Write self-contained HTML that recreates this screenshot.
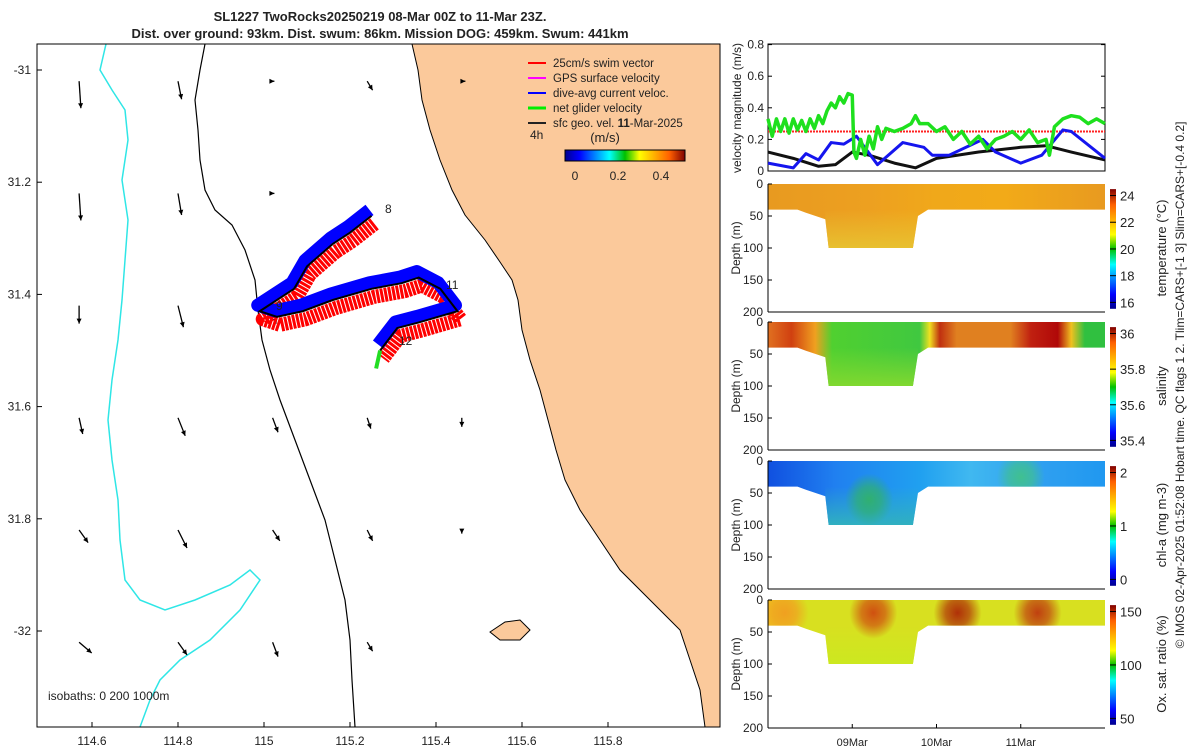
<!DOCTYPE html>
<html><head><meta charset="utf-8">
<style>
body{margin:0;background:#fff;font-family:"Liberation Sans",sans-serif;}
svg text{font-family:"Liberation Sans","DejaVu Sans",sans-serif;fill:#222;}
</style></head>
<body>
<svg id="root" width="1200" height="750" viewBox="0 0 1200 750" xmlns="http://www.w3.org/2000/svg">
<defs>
<linearGradient id="jet" x1="0" x2="1" y1="0" y2="0">
<stop offset="0" stop-color="#00008f"/><stop offset="0.12" stop-color="#0000ff"/><stop offset="0.37" stop-color="#00ffff"/><stop offset="0.5" stop-color="#00c000"/><stop offset="0.62" stop-color="#ffff00"/><stop offset="0.87" stop-color="#ff6000"/><stop offset="1" stop-color="#800000"/>
</linearGradient>
<linearGradient id="jetv" x1="0" x2="0" y1="1" y2="0">
<stop offset="0" stop-color="#00008f"/><stop offset="0.12" stop-color="#0000ff"/><stop offset="0.37" stop-color="#00ffff"/><stop offset="0.5" stop-color="#00c000"/><stop offset="0.62" stop-color="#ffff00"/><stop offset="0.87" stop-color="#ff6000"/><stop offset="1" stop-color="#800000"/>
</linearGradient>
<clipPath id="mapclip"><rect x="37" y="44" width="683" height="683"/></clipPath>
</defs>

<text x="380" y="21" font-size="13" font-weight="bold" text-anchor="middle">SL1227 TwoRocks20250219 08-Mar 00Z to 11-Mar 23Z.</text>
<text x="380" y="38" font-size="13" font-weight="bold" text-anchor="middle">Dist. over ground: 93km. Dist. swum: 86km. Mission DOG: 459km. Swum: 441km</text>

<g id="map">
<g clip-path="url(#mapclip)">
<path fill="#fbc99b" d="M412,44 L418,70 L422,100 L430,130 L440,160 L452,190 L465,215 L485,240 L500,262 L512,280 L518,300 L522,330 L530,360 L540,390 L548,420 L556,450 L565,480 L580,510 L600,540 L620,570 L645,595 L665,615 L680,630 L690,660 L700,690 L705,727 L720,727 L720,44 Z" stroke="#000" stroke-width="1"/>
<path fill="#fbc99b" stroke="#000" d="M490,632 L505,622 L520,620 L530,630 L520,640 L500,640 Z"/>
<path fill="none" stroke="#000" stroke-width="1.2" d="M205,44 L200,70 L195,100 L198,130 L200,160 L205,190 L215,210 L232,225 L245,250 L255,280 L258,310 L262,340 L270,370 L280,400 L295,440 L310,480 L325,520 L335,560 L345,600 L350,640 L352,680 L355,727"/>
<path fill="none" stroke="#2fe6e6" stroke-width="1.5" d="M106,44 L100,70 L112,90 L125,110 L128,140 L122,180 L128,220 L125,260 L122,300 L118,340 L112,380 L108,420 L112,460 L118,500 L120,540 L125,580 L140,600 L165,610 L195,600 L230,585 L250,570 L260,580 L240,610 L210,640 L180,660 L160,680 L150,700 L140,727"/>
</g>
<rect x="37" y="44" width="683" height="683" fill="none" stroke="#000"/>
<g id="mapArrows"></g>
<g id="track"></g>
<text x="385" y="213" font-size="12">8</text>
<text x="276" y="310" font-size="12">9</text>
<text x="446" y="289" font-size="12">11</text>
<text x="399" y="345" font-size="12">12</text>
<g id="mapTicks"></g>
<text x="48" y="700" font-size="12">isobaths: 0   200  1000m</text>
<g font-size="11.5">
<line x1="528" y1="63" x2="546" y2="63" stroke="#f00" stroke-width="2"/><text x="553" y="67" font-size="11.5">25cm/s swim vector</text>
<line x1="528" y1="78" x2="546" y2="78" stroke="#f0f" stroke-width="2"/><text x="553" y="82" font-size="11.5">GPS surface velocity</text>
<line x1="528" y1="93" x2="546" y2="93" stroke="#00f" stroke-width="2"/><text x="553" y="97" font-size="11.5">dive-avg current veloc.</text>
<line x1="528" y1="108" x2="546" y2="108" stroke="#0e0" stroke-width="3"/><text x="553" y="112" font-size="11.5">net glider velocity</text>
<line x1="528" y1="123" x2="546" y2="123" stroke="#222" stroke-width="2"/><text x="553" y="127" font-size="11.5">sfc geo. vel. <tspan font-weight="bold">11</tspan>-Mar-2025</text>
<text x="530" y="139" font-size="12">4h</text>
<text x="605" y="142" font-size="13" text-anchor="middle">(m/s)</text>
<rect x="565" y="150" width="120" height="11" fill="url(#jet)" stroke="#000"/>
<text x="575" y="180" font-size="12" text-anchor="middle">0</text>
<text x="618" y="180" font-size="12" text-anchor="middle">0.2</text>
<text x="661" y="180" font-size="12" text-anchor="middle">0.4</text>
</g>
</g>

<g id="vel"></g>
<g id="sections"></g>
<text transform="translate(1184,385) rotate(-90)" font-size="12" text-anchor="middle">© IMOS 02-Apr-2025 01:52:08 Hobart time. QC flags 1  2. Tlim=CARS+[-1 3] Slim=CARS+[-0.4 0.2]</text>
</svg>
<script>
const NS='http://www.w3.org/2000/svg';
function mk(tag,attrs,parent){const e=document.createElementNS(NS,tag);for(const k in attrs)e.setAttribute(k,attrs[k]);parent.appendChild(e);return e;}

const lonTicks=[114.6,114.8,115,115.2,115.4,115.6,115.8];
const latTicks=[-31,-31.2,-31.4,-31.6,-31.8,-32];
const latTickLabels=['-31','31.2','31.4','31.6','31.8','-32'];
const arrowLons=[114.57,114.8,115.02,115.24,115.46];
const arrowLats=[-31.02,-31.22,-31.42,-31.62,-31.82,-32.02];
const arrowU=[[0.01,0.02,0.01,0.03,0.02],[0.01,0.02,0.01,0.0,0.0],[0,0.03,0.02,0,0],[0.02,0.04,0.03,0.02,0],[0.05,0.05,0.04,0.03,0],[0.07,0.05,0.03,0.03,0]];
const arrowV=[[-0.15,-0.1,0,-0.05,0],[-0.15,-0.12,0,0,0],[-0.1,-0.12,-0.1,0,0],[-0.09,-0.1,-0.08,-0.06,-0.05],[-0.07,-0.1,-0.06,-0.06,-0.02],[-0.06,-0.07,-0.08,-0.05,0]];
const trackLon=[115.25,115.2,115.16,115.1,115.07,114.99,115.03,115.09,115.16,115.25,115.32,115.36,115.41,115.45,115.36,115.31,115.28,115.27];
const trackLat=[-31.26,-31.29,-31.31,-31.35,-31.39,-31.43,-31.44,-31.43,-31.41,-31.39,-31.38,-31.37,-31.39,-31.43,-31.45,-31.46,-31.49,-31.5];
const lonX=v=>92+(v-114.6)*430;
const latY=v=>70+(-31-v)*561;
const mt=document.getElementById('mapTicks');
lonTicks.forEach(v=>{const x=lonX(v);mk('line',{x1:x,x2:x,y1:727,y2:722,stroke:'#000'},mt);const t=mk('text',{x:x,y:745,'font-size':12,'text-anchor':'middle'},mt);t.textContent=String(v);});
latTicks.forEach((v,i)=>{const y=latY(v);mk('line',{x1:37,x2:42,y1:y,y2:y,stroke:'#000'},mt);const t=mk('text',{x:31,y:y+4,'font-size':12,'text-anchor':'end'},mt);t.textContent=latTickLabels[i];});
const ma=document.getElementById('mapArrows');
arrowLats.forEach((la,i)=>arrowLons.forEach((lo,j)=>{
  const x=lonX(lo),y=latY(la),dx=arrowU[i][j]*180,dy=-arrowV[i][j]*180;
  const g=mk('g',{},ma);
  
  
  mk('line',{x1:x,y1:y,x2:x+dx,y2:y+dy,stroke:'#000','stroke-width':1.3},g);
  const L=Math.hypot(dx,dy)||1,ux=dx/L,uy=dy/L;
  mk('path',{d:`M${x+dx},${y+dy} L${x+dx-5*ux-2.5*uy},${y+dy-5*uy+2.5*ux} L${x+dx-5*ux+2.5*uy},${y+dy-5*uy-2.5*ux}Z`,fill:'#000'},g);
}));
const tr=document.getElementById('track');
const tpts=trackLon.map((v,i)=>[lonX(v),latY(trackLat[i])]);
const ptsStr=(dx,dy)=>tpts.map(p=>(p[0]+dx)+','+(p[1]+dy)).join(' ');
const red=mk('polyline',{points:ptsStr(3,8),fill:'none',stroke:'#f00','stroke-width':14,'stroke-linejoin':'round','stroke-dasharray':'3 1'},tr);


const blue=mk('polyline',{points:ptsStr(-2,-6),fill:'none',stroke:'#00f','stroke-width':13,'stroke-linejoin':'round'},tr);


const blk=mk('polyline',{points:ptsStr(0,0),fill:'none',stroke:'#000','stroke-width':2},tr);


const last=tpts[tpts.length-1];
const gr=mk('line',{x1:last[0],y1:last[1],x2:last[0]-4,y2:last[1]+18,stroke:'#2d2','stroke-width':4},tr);



const velTicks=[0,0.2,0.4,0.6,0.8];
const greenT=[0,0.05,0.1,0.15,0.2,0.25,0.3,0.35,0.4,0.45,0.5,0.55,0.6,0.65,0.7,0.75,0.8,0.85,0.9,0.95,1.0,1.02,1.05,1.1,1.15,1.2,1.25,1.3,1.35,1.4,1.5,1.6,1.7,1.75,1.8,1.9,2.0,2.1,2.2,2.3,2.4,2.5,2.6,2.7,2.8,2.9,3.0,3.1,3.2,3.3,3.34,3.4,3.5,3.6,3.7,3.8,3.9,4.0];
const greenV=[0.33,0.22,0.33,0.25,0.33,0.24,0.33,0.26,0.32,0.25,0.33,0.27,0.35,0.3,0.38,0.43,0.4,0.47,0.43,0.49,0.48,0.12,0.08,0.2,0.1,0.22,0.14,0.28,0.2,0.27,0.25,0.27,0.3,0.35,0.3,0.3,0.25,0.28,0.2,0.25,0.17,0.22,0.14,0.2,0.22,0.25,0.2,0.26,0.18,0.2,0.1,0.28,0.33,0.35,0.34,0.3,0.33,0.3];
const blueT=[0,0.3,0.45,0.6,0.75,0.9,1.05,1.3,1.6,1.85,1.95,2.15,2.55,2.7,3.0,3.25,3.5,3.6,4.0];
const blueV=[0.05,0.02,0.11,0.07,0.18,0.17,0.22,0.04,0.18,0.15,0.1,0.1,0.2,0.12,0.05,0.1,0.26,0.25,0.08];
const blackT=[0,0.3,0.6,0.8,1.0,1.2,1.5,1.75,2.0,2.5,3.0,3.3,3.6,4.0];
const blackV=[0.12,0.08,0.03,0.04,0.12,0.1,0.05,0.02,0.08,0.12,0.15,0.16,0.12,0.07];
const swimV=0.25;
const dayTicks=[1,2,3];const dayLabels=['09Mar','10Mar','11Mar'];
const X0=768,X1=1105;
const tx=d=>X0+d*(X1-X0)/4;
const vy=v=>171-v*158;
const vel=document.getElementById('vel');
mk('rect',{x:X0,y:44,width:X1-X0,height:127,fill:'#fff',stroke:'#000'},vel);
velTicks.forEach(v=>{mk('line',{x1:X0,x2:X0+4,y1:vy(v),y2:vy(v),stroke:'#000'},vel);mk('line',{x1:X1,x2:X1-4,y1:vy(v),y2:vy(v),stroke:'#000'},vel);const t=mk('text',{x:X0-4,y:vy(v)+4,'font-size':12,'text-anchor':'end'},vel);t.textContent=v===0?'0':v.toFixed(1);});
const vt=mk('text',{transform:'translate(741,108) rotate(-90)','font-size':12,'text-anchor':'middle'},vel);vt.textContent='velocity magnitude (m/s)';
function series(T,V,col,w,name){const p=mk('polyline',{points:T.map((t,i)=>tx(t)+','+vy(V[i])).join(' '),fill:'none',stroke:col,'stroke-width':w,'stroke-linejoin':'round'},vel);}
const sw=mk('line',{x1:X0,x2:X1,y1:vy(swimV),y2:vy(swimV),stroke:'#f22','stroke-width':2,'stroke-dasharray':'2 1'},vel);


series(blackT,blackV,'#111',3,'geostrophic-speed-line');
series(blueT,blueV,'#1515ee',3,'current-speed-line');
series(greenT,greenV,'#1ee01e',3.5,'net-speed-line');

const depthTicks=[0,50,100,150,200];
const panels=[
 {top:184,name:'temperature-section',label:'temperature (°C)',cbTicks:['16','18','20','22','24'],base:[[0,'#e89a20'],[0.3,'#eda020'],[0.5,'#f0a81a'],[0.7,'#f2aa18'],[1,'#e89a20']],deep:'#e8c030',blobs:[]},
 {top:322,name:'salinity-section',label:'salinity',cbTicks:['35.4','35.6','35.8','36'],base:[[0,'#e07020'],[0.07,'#d04010'],[0.14,'#f0a020'],[0.19,'#50d030'],[0.45,'#40c840'],[0.48,'#f0e020'],[0.51,'#c03010'],[0.56,'#e08020'],[0.72,'#e08020'],[0.78,'#c02010'],[0.86,'#b00808'],[0.9,'#f0c020'],[0.94,'#30c040'],[1,'#30c040']],deep:'#80d830',blobs:[]},
 {top:461,name:'chla-section',label:'chl-a (mg m-3)',cbTicks:['0','1','2'],base:[[0,'#1050e0'],[0.2,'#2080f0'],[0.45,'#20a0f0'],[0.6,'#40b8f0'],[0.8,'#30a0f0'],[1,'#2098f0']],deep:'#30b0c0',blobs:[[1.2,60,'#30b070'],[3.0,25,'#40c090']]},
 {top:600,name:'oxygen-section',label:'Ox. sat. ratio (%)',cbTicks:['50','100','150'],base:[[0,'#f0c020'],[0.1,'#d8e020'],[1,'#d8e020']],deep:'#cce820',blobs:[[0.2,20,'#f0a020'],[1.25,20,'#d05010'],[2.25,20,'#b03008'],[3.2,20,'#c04010']]}
];
const shallow=40;const deepD=100;
const sec=document.getElementById('sections');
panels.forEach((P,pi)=>{
  const dy=d=>P.top+d*0.64;
  const g=mk('g',{},sec);
  
  
  const gid='g'+pi;
  const lg=mk('linearGradient',{id:gid,x1:0,x2:1,y1:0,y2:0},g);
  P.base.forEach(s=>mk('stop',{offset:s[0],'stop-color':s[1]},lg));
  const lg2=mk('linearGradient',{id:gid+'v',x1:0,x2:0,y1:0,y2:1},g);
  mk('stop',{offset:0,'stop-color':P.deep,'stop-opacity':0},lg2);mk('stop',{offset:1,'stop-color':P.deep}, lg2);
  const shape=`M${tx(0)},${dy(0)} L${tx(4)},${dy(0)} L${tx(4)},${dy(shallow)} L${tx(1.9)},${dy(shallow)} L${tx(1.78)},${dy(50)} L${tx(1.72)},${dy(deepD)} L${tx(0.72)},${dy(deepD)} L${tx(0.68)},${dy(55)} L${tx(0.45)},${dy(45)} L${tx(0.35)},${dy(shallow)} L${tx(0)},${dy(shallow)} Z`;
  const cp=mk('clipPath',{id:'c'+pi},g);mk('path',{d:shape},cp);
  mk('path',{d:shape,fill:`url(#${gid})`},g);
  mk('rect',{x:tx(0.68),y:dy(40),width:tx(1.78)-tx(0.68),height:dy(100)-dy(40),fill:`url(#${gid}v)`,'clip-path':`url(#c${pi})`},g);
  P.blobs.forEach((b,bi)=>{
    const rg=mk('radialGradient',{id:`rg${pi}_${bi}`},g);
    mk('stop',{offset:0,'stop-color':b[2],'stop-opacity':1},rg);mk('stop',{offset:0.5,'stop-color':b[2],'stop-opacity':0.7},rg);mk('stop',{offset:1,'stop-color':b[2],'stop-opacity':0},rg);
    mk('ellipse',{cx:tx(b[0]),cy:dy(b[1]),rx:24,ry:26,fill:`url(#rg${pi}_${bi})`,'clip-path':`url(#c${pi})`},g);
  });
  mk('line',{x1:X0,x2:X1,y1:dy(200),y2:dy(200),stroke:'#000'},g);
  mk('line',{x1:X0,x2:X0,y1:dy(0),y2:dy(200),stroke:'#000'},g);
  depthTicks.forEach(d=>{mk('line',{x1:X0,x2:X0+4,y1:dy(d),y2:dy(d),stroke:'#000'},g);const t=mk('text',{x:X0-5,y:dy(d)+4,'font-size':12,'text-anchor':'end'},g);t.textContent=String(d);});
  const yl=mk('text',{transform:`translate(740,${dy(100)}) rotate(-90)`,'font-size':12,'text-anchor':'middle'},g);yl.textContent='Depth (m)';
  if(pi===3){dayTicks.forEach((d,i)=>{mk('line',{x1:tx(d),x2:tx(d),y1:dy(200),y2:dy(200)-4,stroke:'#000'},g);const t=mk('text',{x:tx(d),y:dy(200)+18,'font-size':11,'text-anchor':'middle'},g);t.textContent=dayLabels[i];});}
  const cb=mk('rect',{x:1110,y:dy(8),width:6,height:dy(195)-dy(8),fill:'url(#jetv)'},g);
  
  
  const n=P.cbTicks.length;const y0=dy(185),y1=dy(18);
  P.cbTicks.forEach((s,i)=>{const y=y0+(y1-y0)*i/(n-1);mk('line',{x1:1110,x2:1116,y1:y,y2:y,stroke:'#000'},g);const t=mk('text',{x:1120,y:y+5,'font-size':13},g);t.textContent=s;});
  const cl=mk('text',{transform:`translate(1166,${dy(100)}) rotate(-90)`,'font-size':13,'text-anchor':'middle'},g);cl.textContent=P.label;
});
</script>
</body></html>
